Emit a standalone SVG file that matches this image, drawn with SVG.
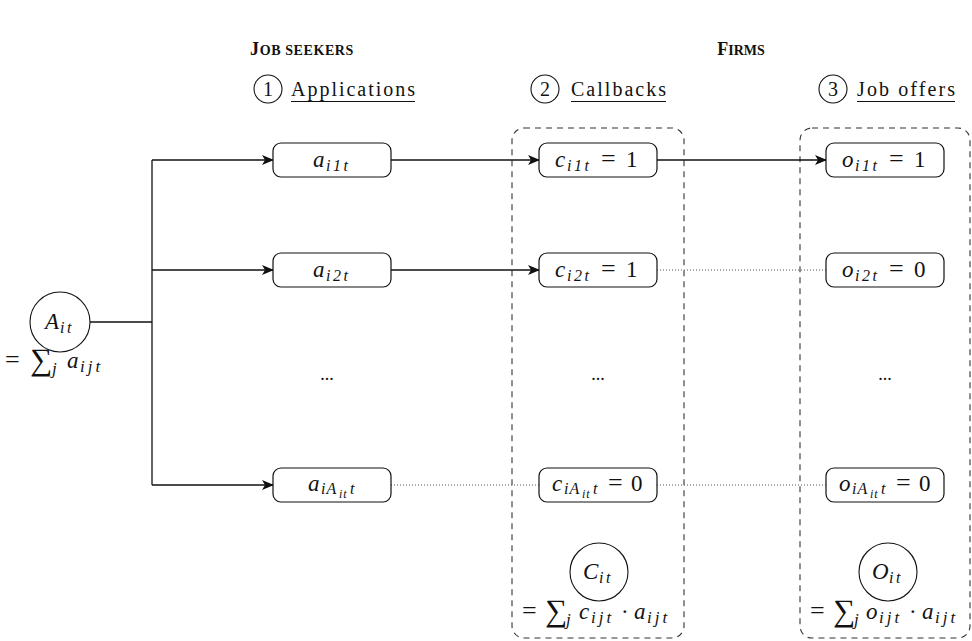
<svg xmlns="http://www.w3.org/2000/svg" width="972" height="641" viewBox="0 0 972 641">
  <style>
    .txt { font-family: "Liberation Serif", "DejaVu Serif", serif; fill: #111; }
    .m { font-family: "Liberation Serif", "DejaVu Serif", serif; font-style: italic; font-size: 23px; fill: #111; }
    .s { font-size: 16px; letter-spacing: 2.5px; }
    .s1 { font-size: 16px; letter-spacing: 1px; }
    .ss { font-size: 12px; letter-spacing: 1px; }
    .sj { font-size: 17px; letter-spacing: 3px; }
    .r { font-style: normal; }
    .eq { font-style: normal; font-size: 26px; }
    .sum { font-style: normal; font-size: 31px; }
    .hdr { font-family: "Liberation Serif", "DejaVu Serif", serif; font-weight: bold; fill: #111; }
    .node { fill: #fff; stroke: #111; stroke-width: 1.2; }
    .circ { fill: #fff; stroke: #111; stroke-width: 1.1; }
    .group { fill: none; stroke: #333; stroke-width: 1.1; stroke-dasharray: 6 5; }
    .edge { fill: none; stroke: #111; stroke-width: 1.3; }
    .dot { fill: none; stroke: #555; stroke-width: 1; stroke-dasharray: 1 2; }
  </style>
  <defs>
    <marker id="arr" viewBox="0 0 12 10" refX="11" refY="5" markerWidth="12" markerHeight="10" markerUnits="userSpaceOnUse" orient="auto">
      <path d="M0,0 L12,5 L0,10 L3,5 z" fill="#111"/>
    </marker>
  </defs>

  <!-- column headings (small caps) -->
  <g id="headings">
    <text class="hdr" x="302" y="55" font-size="18" text-anchor="middle" letter-spacing="0.6">J<tspan font-size="14">OB SEEKERS</tspan></text>
    <text class="hdr" x="741" y="55" font-size="18" text-anchor="middle">F<tspan font-size="14">IRMS</tspan></text>
  </g>

  <!-- numbered stage titles -->
  <g id="stage1">
    <circle class="circ" cx="268" cy="89" r="14"/>
    <text class="txt" x="268" y="96" font-size="20" text-anchor="middle">1</text>
    <text class="txt" x="291" y="96" font-size="20" textLength="124">Applications</text>
    <line x1="291" y1="101.5" x2="415" y2="101.5" stroke="#111" stroke-width="1"/>
  </g>
  <g id="stage2">
    <circle class="circ" cx="545" cy="89" r="14"/>
    <text class="txt" x="545" y="96" font-size="20" text-anchor="middle">2</text>
    <text class="txt" x="571" y="96" font-size="20" textLength="95">Callbacks</text>
    <line x1="571" y1="101.5" x2="666" y2="101.5" stroke="#111" stroke-width="1"/>
  </g>
  <g id="stage3">
    <circle class="circ" cx="833" cy="89" r="14"/>
    <text class="txt" x="833" y="96" font-size="20" text-anchor="middle">3</text>
    <text class="txt" x="857" y="96" font-size="20" textLength="98">Job offers</text>
    <line x1="857" y1="101.5" x2="955" y2="101.5" stroke="#111" stroke-width="1"/>
  </g>

  <!-- firm-side groupings -->
  <g id="callbacks-box">
    <rect class="group" x="512" y="128" width="172" height="510" rx="12"/>
  </g>
  <g id="offers-box">
    <rect class="group" x="800" y="128" width="170" height="510" rx="12"/>
  </g>

  <!-- connectors -->
  <g id="connectors">
    <path class="edge" d="M90,322 H152"/>
    <path class="edge" d="M152,160 V485"/>
    <path class="edge" d="M152,160 H273" marker-end="url(#arr)"/>
    <path class="edge" d="M152,270 H273" marker-end="url(#arr)"/>
    <path class="edge" d="M152,485 H273" marker-end="url(#arr)"/>
    <path class="edge" d="M391,160 H539" marker-end="url(#arr)"/>
    <path class="edge" d="M657,160 H826" marker-end="url(#arr)"/>
    <path class="edge" d="M391,270 H539" marker-end="url(#arr)"/>
    <path class="dot" d="M657,270 H826"/>
    <path class="dot" d="M391,485 H539"/>
    <path class="dot" d="M657,485 H826"/>
  </g>

  <!-- total applications -->
  <g id="A-total">
    <circle class="circ" cx="60" cy="322" r="30"/>
    <text class="m"><tspan x="45" y="329">A</tspan><tspan class="s" x="60" y="333">it</tspan></text>
    <text class="m"><tspan class="eq" x="5" y="368">=</tspan><tspan class="sum" x="30" y="370">∑</tspan><tspan class="sj" x="52" y="374">j</tspan><tspan x="67" y="368">a</tspan><tspan class="sj" x="80" y="372">ijt</tspan></text>
  </g>

  <!-- applications -->
  <g id="a1">
    <rect class="node" x="273" y="143" width="118" height="34" rx="8"/>
    <text class="m"><tspan x="313" y="167">a</tspan><tspan class="s" x="326" y="171">i1t</tspan></text>
  </g>
  <g id="a2">
    <rect class="node" x="273" y="253" width="118" height="34" rx="8"/>
    <text class="m"><tspan x="313" y="277">a</tspan><tspan class="s" x="326" y="281">i2t</tspan></text>
  </g>
  <g id="a-dots">
    <text class="txt" x="327" y="380" font-size="18" text-anchor="middle">...</text>
  </g>
  <g id="aA">
    <rect class="node" x="273" y="468" width="118" height="34" rx="8"/>
    <text class="m"><tspan x="308" y="491">a</tspan><tspan class="s1" x="321" y="494">iA</tspan><tspan class="ss" x="339" y="498">it</tspan><tspan class="s1" x="350" y="494">t</tspan></text>
  </g>

  <!-- callbacks -->
  <g id="c1">
    <rect class="node" x="539" y="143" width="118" height="34" rx="8"/>
    <text class="m"><tspan x="555" y="167">c</tspan><tspan class="s" x="567" y="171">i1t</tspan><tspan class="eq" x="601" y="167">=</tspan><tspan class="r" x="626" y="167">1</tspan></text>
  </g>
  <g id="c2">
    <rect class="node" x="539" y="253" width="118" height="34" rx="8"/>
    <text class="m"><tspan x="555" y="277">c</tspan><tspan class="s" x="567" y="281">i2t</tspan><tspan class="eq" x="601" y="277">=</tspan><tspan class="r" x="626" y="277">1</tspan></text>
  </g>
  <g id="c-dots">
    <text class="txt" x="598" y="380" font-size="18" text-anchor="middle">...</text>
  </g>
  <g id="cA">
    <rect class="node" x="539" y="468" width="118" height="34" rx="8"/>
    <text class="m"><tspan x="552" y="491">c</tspan><tspan class="s1" x="564" y="494">iA</tspan><tspan class="ss" x="582" y="498">it</tspan><tspan class="s1" x="593" y="494">t</tspan><tspan class="eq" x="608" y="491">=</tspan><tspan class="r" x="631" y="491">0</tspan></text>
  </g>

  <!-- job offers -->
  <g id="o1">
    <rect class="node" x="826" y="143" width="118" height="34" rx="8"/>
    <text class="m"><tspan x="842" y="167">o</tspan><tspan class="s" x="855" y="171">i1t</tspan><tspan class="eq" x="889" y="167">=</tspan><tspan class="r" x="914" y="167">1</tspan></text>
  </g>
  <g id="o2">
    <rect class="node" x="826" y="253" width="118" height="34" rx="8"/>
    <text class="m"><tspan x="842" y="277">o</tspan><tspan class="s" x="855" y="281">i2t</tspan><tspan class="eq" x="889" y="277">=</tspan><tspan class="r" x="914" y="277">0</tspan></text>
  </g>
  <g id="o-dots">
    <text class="txt" x="885" y="380" font-size="18" text-anchor="middle">...</text>
  </g>
  <g id="oA">
    <rect class="node" x="826" y="468" width="118" height="34" rx="8"/>
    <text class="m"><tspan x="839" y="491">o</tspan><tspan class="s1" x="852" y="494">iA</tspan><tspan class="ss" x="870" y="498">it</tspan><tspan class="s1" x="881" y="494">t</tspan><tspan class="eq" x="896" y="491">=</tspan><tspan class="r" x="919" y="491">0</tspan></text>
  </g>

  <!-- totals -->
  <g id="C-total">
    <circle class="circ" cx="599" cy="572" r="29"/>
    <text class="m"><tspan x="583" y="579">C</tspan><tspan class="s" x="599" y="583">it</tspan></text>
    <text class="m"><tspan class="eq" x="522" y="619">=</tspan><tspan class="sum" x="545" y="621">∑</tspan><tspan class="sj" x="566" y="625">j</tspan><tspan x="579" y="619">c</tspan><tspan class="sj" x="591" y="623">ijt</tspan><tspan class="r" x="621" y="619">·</tspan><tspan x="634" y="619">a</tspan><tspan class="sj" x="647" y="623">ijt</tspan></text>
  </g>
  <g id="O-total">
    <circle class="circ" cx="888" cy="572" r="29"/>
    <text class="m"><tspan x="872" y="579">O</tspan><tspan class="s" x="889" y="583">it</tspan></text>
    <text class="m"><tspan class="eq" x="810" y="619">=</tspan><tspan class="sum" x="833" y="621">∑</tspan><tspan class="sj" x="854" y="625">j</tspan><tspan x="866" y="619">o</tspan><tspan class="sj" x="879" y="623">ijt</tspan><tspan class="r" x="909" y="619">·</tspan><tspan x="922" y="619">a</tspan><tspan class="sj" x="935" y="623">ijt</tspan></text>
  </g>
</svg>
